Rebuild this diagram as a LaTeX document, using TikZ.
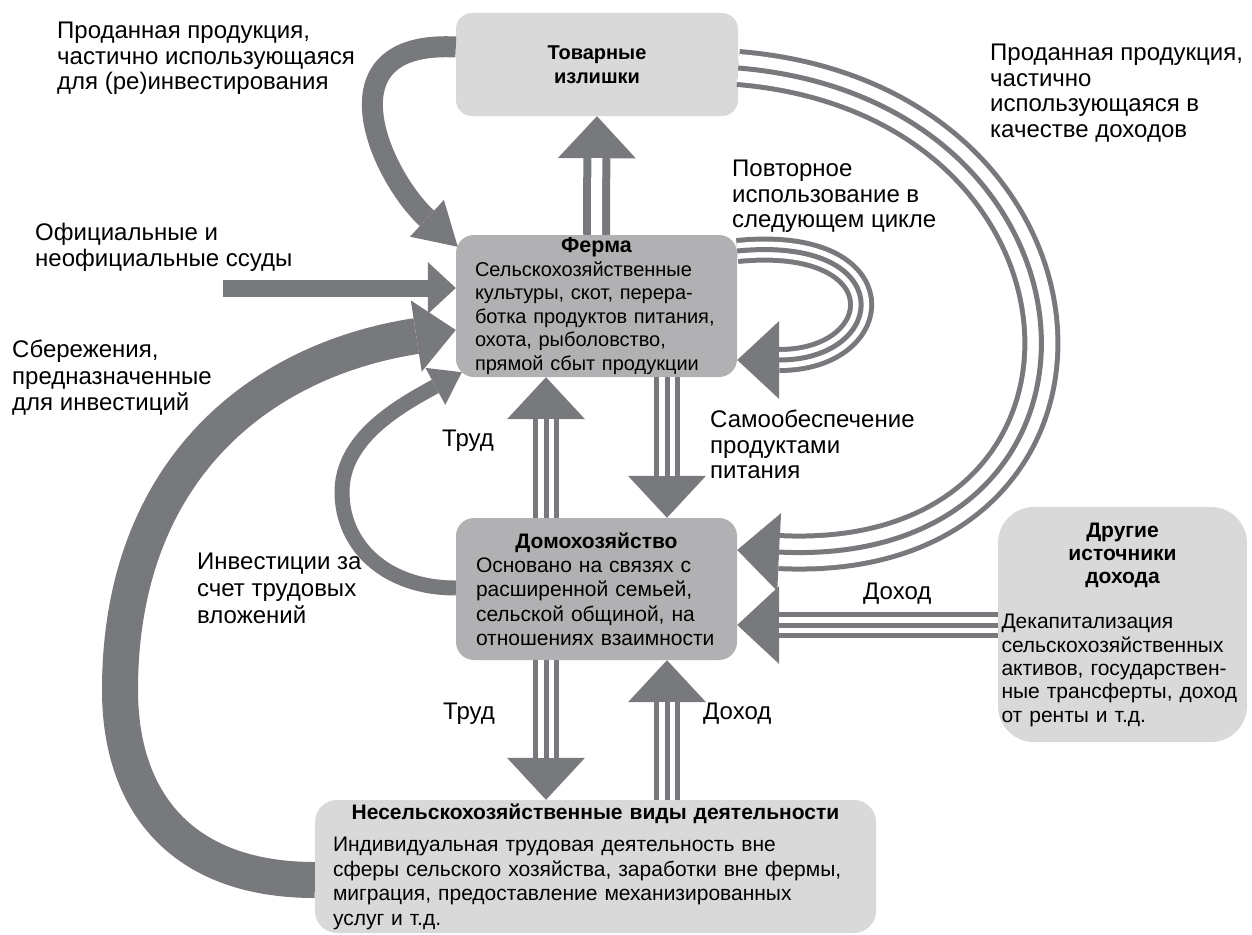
\documentclass[tikz,border=0pt]{standalone}
\usepackage{fontspec}
\setmainfont{Liberation Sans}
\usetikzlibrary{arrows.meta}

\definecolor{flowgray}{RGB}{120,121,124}
\definecolor{boxlight}{RGB}{217,217,217}
\definecolor{boxdark}{RGB}{177,177,179}

\newcommand{\lblfont}{\fontsize{24pt}{25.5pt}\selectfont}
\newcommand{\farmfont}{\fontsize{20pt}{23.5pt}\selectfont}
\newcommand{\homefont}{\fontsize{21pt}{24.3pt}\selectfont}
\newcommand{\otherfont}{\fontsize{21pt}{23.3pt}\selectfont}
\newcommand{\nonfarmfont}{\fontsize{21pt}{24.5pt}\selectfont}

\tikzset{
  bighead/.tip={Triangle[width=78pt,length=42pt,line width=0pt]},
  box/.style={rectangle, rounded corners=#1, inner sep=0pt, align=left},
  box/.default=16pt,
  lbl/.style={anchor=north west, inner sep=0pt, align=left, font=\lblfont},
  dbl/.style={draw=flowgray, line width=27pt, -bighead,
    postaction={draw=white, -, line width=11pt, shorten >=42pt}},
  trip/.style={draw=flowgray, line width=#1, -bighead,
    postaction={draw=white, -, line width=#1-10pt, shorten >=42pt},
    postaction={draw=flowgray, -, line width=5pt, shorten >=42pt}},
  trip/.default=26pt,
  flow/.style={draw=flowgray, line width=#1}
}

\begin{document}
\begin{tikzpicture}[x=1pt, y=-1pt]
\useasboundingbox (0,0) rectangle (1252,934);

% boxes
\node (tov) [box, fill=boxlight, minimum width=282pt, minimum height=103pt, text width=250pt, align=center, font=\farmfont] at (597,64.5) {\bfseries Товарные\\излишки};
\node (farm) [box=18pt, fill=boxdark, minimum width=281pt, minimum height=142pt, text width=243pt, font=\farmfont] at (596.5,306) {{\fontsize{21.5pt}{23pt}\selectfont\bfseries\centering Ферма\par}Сельскохозяйственные\\культуры, скот, перера-\\ботка продуктов питания,\\охота, рыболовство,\\прямой сбыт продукции};
\node (home) [box=18pt, fill=boxdark, minimum width=281pt, minimum height=142pt, text width=241pt, font=\homefont] at (596.5,589) {{\bfseries\centering Домохозяйство\par}Основано на связях с\\расширенной семьей,\\сельской общиной, на\\отношениях взаимности};
\node (other) [box=36pt, fill=boxlight, minimum width=249pt, minimum height=235pt, text width=242pt, font=\otherfont] at (1122.5,624.5) {{\bfseries\centering Другие\\источники\\дохода\par}\vspace{22pt}Декапитализация\\сельскохозяйственных\\активов, государствен-\\ные трансферты, доход\\от ренты и т.д.};
\node (nonfarm) [box=22pt, fill=boxlight, minimum width=561pt, minimum height=133pt, text width=525pt, font=\nonfarmfont] at (595.5,866.5) {{\bfseries\centering Несельскохозяйственные виды деятельности\par}\vspace{8pt}Индивидуальная трудовая деятельность вне\\сферы сельского хозяйства, заработки вне фермы,\\миграция, предоставление механизированных\\услуг и т.д.};

\coordinate (colL) at (546,0);
\coordinate (colR) at (667,0);
\coordinate (rowInc) at (0,625);
\coordinate (loopA) at (0,251);
\coordinate (loopB) at (0,360);
\coordinate (arcA) at (0,68);
\coordinate (arcB) at (0,550);
\coordinate (reinv) at (0,47);
\coordinate (loan) at (223,288);
\coordinate (sav) at (0,880);
\coordinate (savtip) at (0,330);
\coordinate (labinv) at (0,588);

% flows between farm, household and non-farm
\draw [dbl] (farm.north) -- (tov.south);
\draw [trip] (home.north -| colL) -- (farm.south -| colL);
\draw [trip] (farm.south -| colR) -- (home.north -| colR);
\draw [trip] (home.south -| colL) -- (nonfarm.north -| colL);
\draw [trip] (nonfarm.north -| colR) -- (home.south -| colR);
\draw [trip] (other.west |- rowInc) -- (home.east |- rowInc);

\draw [trip] (farm.east |- loopA) .. controls (900,235) and (890,360) .. (farm.east |- loopB);
\draw [trip=38pt] (tov.east |- arcA) .. controls (1125,100) and (1145,570) .. (home.east |- arcB);

% thick single flows
\draw [flow=21pt, -{Triangle[width=50pt,length=42pt,line width=0pt]}] (tov.west |- reinv) .. controls (320,40) and (380,175) .. ([xshift=2pt, yshift=-12pt]farm.north west);
\draw [flow=17pt, -{Triangle[width=52pt,length=28pt,line width=0pt]}] (loan) -- (farm.west |- loan);
\draw [flow=36pt, -{Triangle[width=72pt,length=40pt,line width=0pt]}] (nonfarm.west |- sav) .. controls (180,880) and (120,800) .. (120,690) .. controls (120,470) and (260,360) .. (farm.west |- savtip);
\draw [flow=15pt, -{Triangle[width=42pt,length=30pt,line width=0pt]}] (home.west |- labinv) .. controls (385,588) and (342,545) .. (342,492) .. controls (342,440) and (395,408) .. ([xshift=6pt, yshift=5pt]farm.south west);

% labels
\node (tlsold) [lbl] at (57,22) {Проданная продукция,\\частично использующаяся\\для (ре)инвестирования};
\node (trsold) [lbl] at (990,44) {Проданная продукция,\\частично\\использующаяся в\\качестве доходов};
\node (treuse) [lbl] at (732,160) {Повторное\\использование в\\следующем цикле};
\node (tloan) [lbl] at (35,223) {Официальные и\\неофициальные ссуды};
\node (tsave) [lbl, font=\fontsize{24pt}{26.5pt}\selectfont] at (12,340) {Сбережения,\\предназначенные\\для инвестиций};
\node (tlab1) [lbl] at (442,430) {Труд};
\node (tself) [lbl] at (710,410) {Самообеспечение\\продуктами\\питания};
\node (tinv) [lbl, font=\fontsize{24pt}{27pt}\selectfont] at (197,553) {Инвестиции за\\счет трудовых\\вложений};
\node (tinc1) [lbl] at (863,583) {Доход};
\node (tlab2) [lbl] at (443,703) {Труд};
\node (tinc2) [lbl] at (703,703) {Доход};

\end{tikzpicture}
\end{document}
